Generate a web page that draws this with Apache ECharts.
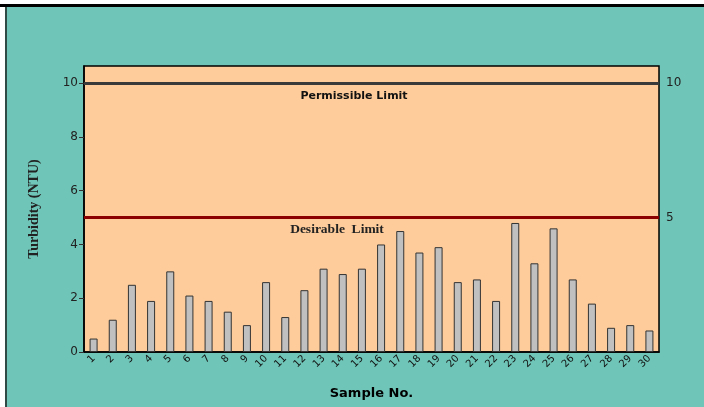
<!DOCTYPE html>
<html><head><meta charset="utf-8">
<script src="https://cdn.jsdelivr.net/npm/echarts@6/dist/echarts.min.js"></script>
<style>html,body{margin:0;padding:0;background:#fff}#c{width:704px;height:407px}</style>
</head><body><div id="c"></div>
<script>
var categories = ['1','2','3','4','5','6','7','8','9','10','11','12','13','14','15','16','17','18','19','20','21','22','23','24','25','26','27','28','29','30'];
var turbidity = [0.5,1.2,2.5,1.9,3.0,2.1,1.9,1.5,1.0,2.6,1.3,2.3,3.1,2.9,3.1,4.0,4.5,3.7,3.9,2.6,2.7,1.9,4.8,3.3,4.6,2.7,1.8,0.9,1.0,0.8];
var permissibleLimit = 10;
var desirableLimit = 5;
var leftTicks = [0,2,4,6,8,10];
var rightTicks = [5,10];

var chart = echarts.init(document.getElementById('c'));
var frame = [
  {type:'rect', shape:{x:5,y:4,width:699,height:403}, style:{fill:'#6fc5b7'}, z:-10},
  {type:'rect', shape:{x:0,y:4,width:704,height:3}, style:{fill:'#000'}, z:-9},
  {type:'rect', shape:{x:5,y:7,width:2,height:400}, style:{fill:'#2f4a45'}, z:-9}
];
var option = {
  animation: false,
  backgroundColor: '#ffffff',
  graphic: frame,
  grid: {left:84, top:66, right:45, bottom:55, show:true, backgroundColor:'#fecc9a', borderColor:'#000', borderWidth:1.5},
  xAxis: {
    type:'category', data:categories,
    name:'Sample No.', nameLocation:'middle', nameGap:35,
    nameTextStyle:{fontFamily:'DejaVu Sans', fontWeight:'bold', fontSize:13, color:'#000'},
    axisLine:{lineStyle:{color:'#000', width:1.5}},
    axisTick:{alignWithLabel:true, length:4, lineStyle:{color:'#333'}},
    axisLabel:{rotate:45, fontSize:10, fontFamily:'DejaVu Sans', color:'#111', margin:5, interval:0}
  },
  yAxis: [{
    type:'value', min:0, max:10.64, interval:2,
    name:'Turbidity (NTU)', nameLocation:'middle', nameGap:43,
    nameTextStyle:{fontFamily:'Liberation Serif', fontWeight:'bold', fontSize:14, color:'#222'},
    splitLine:{show:false},
    axisLine:{show:true, lineStyle:{color:'#000', width:1.5}},
    axisTick:{show:true, length:5, customValues:leftTicks, lineStyle:{color:'#333'}},
    axisLabel:{fontFamily:'DejaVu Sans', fontSize:12, color:'#222', margin:6, customValues:leftTicks}
  },{
    type:'value', min:0, max:10.64, interval:5, position:'right',
    splitLine:{show:false},
    axisLine:{show:false}, axisTick:{show:false},
    axisLabel:{fontFamily:'DejaVu Sans', fontSize:12, color:'#222', margin:7, customValues:rightTicks}
  }],
  series: [{
    type:'bar', data:turbidity, barWidth:8,
    itemStyle:{color:'#c0c0c0', borderColor:'#333', borderWidth:1},
    markLine:{
      silent:true, symbol:'none', animation:false,
      label:{show:false},
      data:[
        {yAxis:permissibleLimit, lineStyle:{color:'#3a3a3a', width:3, type:'solid'}},
        {yAxis:desirableLimit, lineStyle:{color:'#8b0000', width:3, type:'solid'}}
      ]
    }
  }]
};
chart.setOption(option);
var p1 = chart.convertToPixel({xAxisIndex:0, yAxisIndex:0}, [0, permissibleLimit]);
var p2 = chart.convertToPixel({xAxisIndex:0, yAxisIndex:0}, [0, desirableLimit]);
chart.setOption({graphic: frame.concat([
  {type:'text', x:354, y:p1[1]+13, z:100, style:{text:'Permissible Limit', font:'bold 11px "DejaVu Sans"', fill:'#111', align:'center', verticalAlign:'middle'}},
  {type:'text', x:337, y:p2[1]+12, z:100, style:{text:'Desirable  Limit', font:'bold 13.5px "Liberation Serif"', fill:'#222', align:'center', verticalAlign:'middle'}}
])});
</script></body></html>
